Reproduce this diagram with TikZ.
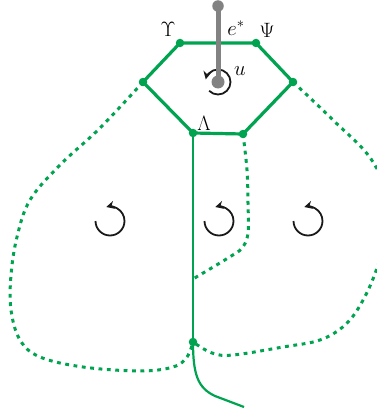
\documentclass[tikz,border=0pt]{standalone}
\usetikzlibrary{arrows.meta}
\definecolor{grn}{RGB}{0,163,80}
\definecolor{stickgray}{RGB}{130,130,130}
\begin{document}
\begin{tikzpicture}[x=1pt,y=-1pt,
  edgeline/.style={draw=grn,line width=3.2pt,line join=round},
  solidline/.style={draw=grn,line width=2.2pt},
  dotline/.style={draw=grn,line width=3pt,dash pattern=on 3.8pt off 4.6pt},
  vdot/.style={circle,fill=grn,inner sep=0pt,minimum size=8.5pt},
  rotarrow/.style={draw=black!90,line width=1.8pt,-{Stealth[length=8pt,width=8pt]}},
  lbl/.style={font=\fontsize{20}{24}\selectfont,inner sep=0pt}]
\useasboundingbox (0,0) rectangle (377,412);
\clip (0,0) rectangle (377,412);
% vertices
\node[vdot] (TL) at (180,43) {};
\node[vdot] (TR) at (256,43) {};
\node[vdot] (L) at (143,82) {};
\node[vdot] (R) at (293,82) {};
\node[vdot] (BL) at (193,133) {};
\node[vdot] (BR) at (243,134) {};
\node[vdot] (J) at (193,342) {};
\coordinate (K) at (193,279);
\coordinate (E) at (244,407);
% dotted curves
\draw[dotline] plot[smooth,tension=0.6] coordinates {(L) (100,128) (60,165) (30,200) (17,237) (11,275) (11,310) (20,340) (40,357) (83,367) (140,371) (173,367) (187,357) (J)};
\draw[dotline] plot[smooth,tension=0.6] coordinates {(R) (333,120) (373,162) (392,215) (377,268) (362,302) (345,325) (320,340) (283,347) (233,355) (212,353) (J)};
\draw[dotline] plot[smooth,tension=0.6] coordinates {(BR) (247,170) (248,203) (248,233) (242,248) (228,258) (K)};
% solid lines
\draw[solidline] (BL.center) -- (J.center);
\draw[solidline] (J.center) .. controls (193,375) and (198,388) .. (215,396) -- (E);
% hexagon
\draw[edgeline] (TL.center) -- (TR.center) -- (R.center) -- (BR.center) -- (BL.center) -- (L.center) -- (TL.center);
% rotation arrows in faces
\coordinate (F1) at (110,221);
\coordinate (F2) at (219,221);
\coordinate (F3) at (308,221);
\foreach \c in {F1,F2,F3}{
  \draw[rotarrow] (\c) ++(180:14.5) arc[start angle=180,end angle=-105,radius=14.5];
}
% rotation around u
\coordinate (U) at (218,82);
\draw[rotarrow] (U) ++(135:12.5) arc[start angle=135,end angle=-168,radius=12.5];
% gray stick
\node[circle,fill=stickgray,inner sep=0pt,minimum size=11.5pt] (S1) at (218,6) {};
\node[circle,fill=stickgray,inner sep=0pt,minimum size=13pt] (S2) at (U) {};
\draw[stickgray,line width=5pt] (S1.center) -- (S2.center);
% labels
\node[lbl] (lU) at (168,29) {$\Upsilon$};
\node[lbl] (lE) at (236,28) {$e^*$};
\node[lbl] (lP) at (267,30) {$\Psi$};
\node[lbl] (lu) at (240,71) {$u$};
\node[lbl] (lL) at (204,123) {$\Lambda$};
\end{tikzpicture}
\end{document}
